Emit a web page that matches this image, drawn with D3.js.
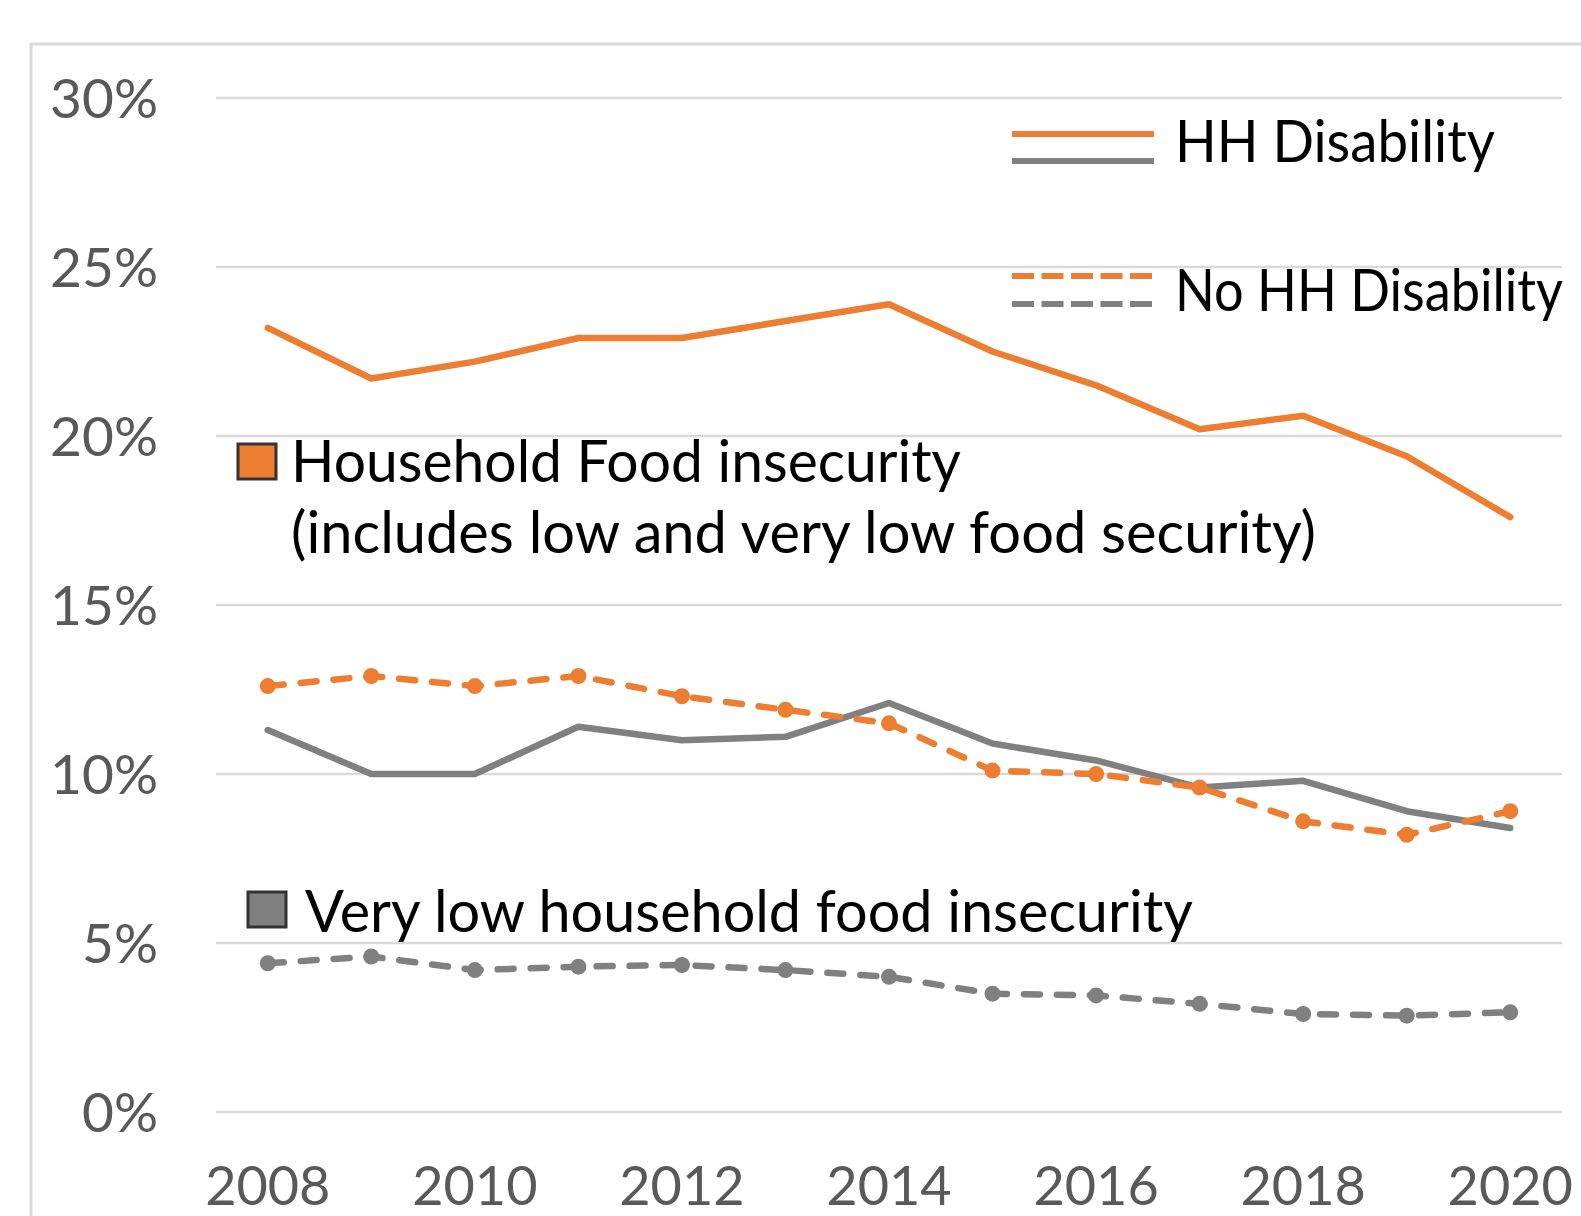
<!DOCTYPE html>
<html>
<head>
<meta charset="utf-8">
<script src="https://cdn.jsdelivr.net/npm/d3@7"></script>
<style>
  html, body { margin: 0; padding: 0; background: #fff; overflow: hidden; }
  svg { display: block; }
</style>
</head>
<body>
<div class="chart"></div>
<script>
// data (percent)
var years = [2008, 2009, 2010, 2011, 2012, 2013, 2014, 2015, 2016, 2017, 2018, 2019, 2020];
var xTickYears = [2008, 2010, 2012, 2014, 2016, 2018, 2020];
var yTicks = [0, 5, 10, 15, 20, 25, 30];

var foodInsecDisab   = [23.2, 21.7, 22.2, 22.9, 22.9, 23.4, 23.9, 22.5, 21.5, 20.2, 20.6, 19.4, 17.6];
var foodInsecNoDisab = [12.6, 12.9, 12.6, 12.9, 12.3, 11.9, 11.5, 10.1, 10.0, 9.6, 8.6, 8.2, 8.9];
var veryLowDisab     = [11.3, 10.0, 10.0, 11.4, 11.0, 11.1, 12.1, 10.9, 10.4, 9.6, 9.8, 8.9, 8.4];
var veryLowNoDisab   = [4.4, 4.6, 4.2, 4.3, 4.35, 4.2, 4.0, 3.5, 3.45, 3.2, 2.9, 2.85, 2.95];

var orange = "#ED7D31", grey = "#808080";
var font = "Lato, 'Open Sans', sans-serif";

var svg = d3.select(".chart").append("svg")
    .attr("width", 1581)
    .attr("height", 1216);

// chart area border
svg.append("rect")
    .attr("x", 31).attr("y", 44)
    .attr("width", 1700).attr("height", 1400)
    .attr("fill", "none")
    .attr("stroke", "#d9d9d9")
    .attr("stroke-width", 3);

var x = d3.scaleBand().domain(years).range([216, 1562]);
var y = d3.scaleLinear().domain([0, 30]).range([1112, 98]);
function cx(d) { return x(d) + x.bandwidth() / 2; }

// gridlines
svg.append("g").selectAll("line")
    .data(yTicks)
    .enter()
        .append("line")
        .attr("x1", 216).attr("x2", 1562)
        .attr("y1", function (d) { return y(d); })
        .attr("y2", function (d) { return y(d); })
        .attr("stroke", "#d9d9d9")
        .attr("stroke-width", 2.5);

// y axis
var yAxis = svg.append("g")
    .attr("transform", "translate(158,0)")
    .call(d3.axisLeft(y).tickValues(yTicks).tickSize(0).tickPadding(0)
        .tickFormat(function (d) { return d + "%"; }));
yAxis.select(".domain").remove();
yAxis.selectAll("text")
    .attr("font-family", font)
    .attr("font-size", 55)
    .attr("fill", "#595959")
    .attr("dy", "0.36em");

// x axis
var xAxis = svg.append("g")
    .attr("transform", "translate(0,1205)")
    .call(d3.axisBottom(x).tickValues(xTickYears).tickSize(0).tickPadding(0));
xAxis.select(".domain").remove();
xAxis.selectAll("text")
    .attr("font-family", font)
    .attr("font-size", 54)
    .attr("fill", "#595959")
    .attr("dy", "0");

var line = d3.line()
    .x(function (d, i) { return cx(years[i]); })
    .y(function (d) { return y(d); });

var series = [
    { values: veryLowDisab, color: grey, dashed: false },
    { values: foodInsecDisab, color: orange, dashed: false },
    { values: veryLowNoDisab, color: grey, dashed: true },
    { values: foodInsecNoDisab, color: orange, dashed: true }
];

series.forEach(function (s) {
    svg.append("path")
        .datum(s.values)
        .attr("d", line)
        .attr("fill", "none")
        .attr("stroke", s.color)
        .attr("stroke-width", 6.5)
        .attr("stroke-linejoin", "round")
        .attr("stroke-linecap", "round")
        .attr("stroke-dasharray", s.dashed ? "16,17" : null);
    if (s.dashed) {
        svg.append("g").selectAll("circle")
            .data(s.values)
            .enter()
                .append("circle")
                .attr("cx", function (d, i) { return cx(years[i]); })
                .attr("cy", function (d) { return y(d); })
                .attr("r", 8)
                .attr("fill", s.color);
    }
});

// legend, top right
var legend = [
    { label: "HH Disability", y1: 134, y2: 161, ty: 162, dash: null, len: 320 },
    { label: "No HH Disability", y1: 276, y2: 304, ty: 311, dash: "22,7.5", len: 388 }
];
legend.forEach(function (l) {
    [[l.y1, orange], [l.y2, grey]].forEach(function (p) {
        svg.append("line")
            .attr("x1", 1012).attr("x2", 1154)
            .attr("y1", p[0]).attr("y2", p[0])
            .attr("stroke", p[1])
            .attr("stroke-width", 6)
            .attr("stroke-dasharray", l.dash);
    });
    svg.append("text")
        .attr("x", 1175).attr("y", l.ty)
        .attr("font-family", font)
        .attr("font-size", 58)
        .attr("fill", "#000")
        .attr("textLength", l.len)
        .attr("lengthAdjust", "spacingAndGlyphs")
        .text(l.label);
});

// annotation boxes
var notes = [
    { box: [238, 444, orange], lines: [["Household Food insecurity", 291, 482, 670],
                                       ["(includes low and very low food security)", 291, 553, 1025]] },
    { box: [248, 892, grey], lines: [["Very low household food insecurity", 305, 932, 888]] }
];
notes.forEach(function (n) {
    svg.append("rect")
        .attr("x", n.box[0]).attr("y", n.box[1])
        .attr("width", 38).attr("height", 35)
        .attr("fill", n.box[2])
        .attr("stroke", "#333")
        .attr("stroke-width", 3);
    n.lines.forEach(function (t) {
        svg.append("text")
            .attr("x", t[1]).attr("y", t[2])
            .attr("font-family", font)
            .attr("font-size", 58)
            .attr("fill", "#000")
            .attr("textLength", t[3])
            .attr("lengthAdjust", "spacingAndGlyphs")
            .text(t[0]);
    });
});
</script>
</body>
</html>
